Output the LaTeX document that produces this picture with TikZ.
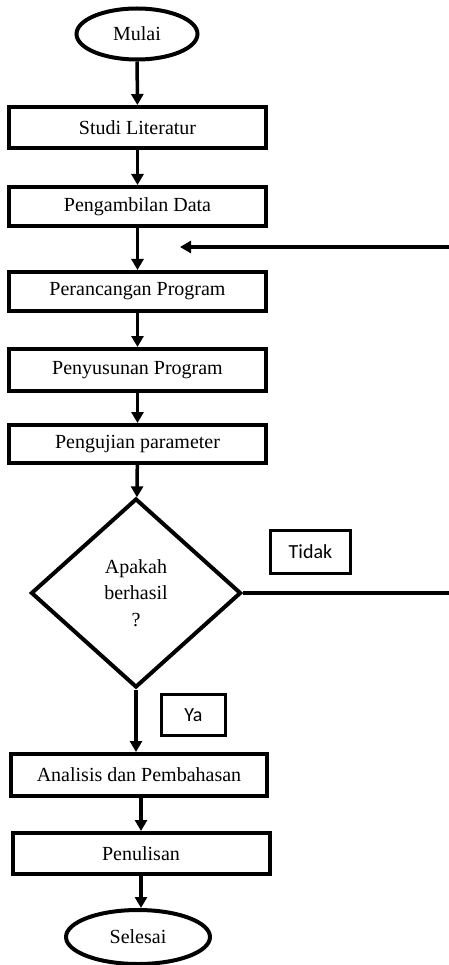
\documentclass[tikz,border=0pt]{standalone}
\usepackage{fontspec}
\setmainfont{Liberation Serif}
\newfontfamily\ketfont{Carlito}
\definecolor{Garis}{RGB}{0,0,0}
\definecolor{Isi}{RGB}{255,255,255}
\usetikzlibrary{
  positioning,
  arrows.meta,
  shapes.geometric
}
\tikzset{
  % Kotak proses
  proses/.style={
    rectangle,
    draw=Garis,
    fill=Isi,
    line width=4pt,
    minimum width=257pt,
    minimum height=41pt,
    inner sep=0pt,
    font=\fontsize{20}{24}\selectfont
  },
  % Mulai / selesai
  terminal/.style={
    ellipse,
    draw=Garis,
    fill=Isi,
    line width=4pt,
    inner sep=0pt,
    font=\fontsize{20}{24}\selectfont
  },
  % Belah ketupat keputusan
  keputusan/.style={
    diamond,
    draw=Garis,
    fill=Isi,
    line width=4pt,
    minimum width=210pt,
    minimum height=189pt,
    inner sep=0pt,
    align=center,
    font=\fontsize{20}{26.5}\selectfont
  },
  % Kotak keterangan Ya / Tidak
  ket/.style={
    rectangle,
    draw=Garis,
    line width=3pt,
    inner sep=0pt,
    font=\ketfont\fontsize{20}{24}\selectfont
  },
  % Panah alur
  alur/.style={
    draw=Garis,
    line width=3.5pt,
    -{Triangle[length=11pt,width=12pt]}
  },
  % Garis tanpa panah
  garis/.style={
    draw=Garis,
    line width=3.5pt
  }
}
\begin{document}
\begin{tikzpicture}[x=1pt,y=-1pt]
  \useasboundingbox (0,0) rectangle (449,965);
  \clip (0,0) rectangle (449,965);

  % Urutan langkah
  \node[terminal, minimum width=121pt, minimum height=51pt] (mulai) at (137, 34) {Mulai};
  \node[proses] (studi)   at (137.5, 127.5) {Studi Literatur};
  \node[proses, minimum height=39pt] (ambil)   at (137.5, 206.5) {Pengambilan Data};
  \node[proses, minimum height=39pt] (rancang) at (137.5, 291.5) {Perancangan Program};
  \node[proses, minimum height=42pt] (susun)   at (137.5, 370)   {Penyusunan Program};
  \node[proses, minimum height=38pt] (uji)     at (137.5, 444)   {Pengujian parameter};
  \node[keputusan] (cek) at (136, 593) {Apakah\\berhasil\\?};
  \node[proses, minimum width=256pt, minimum height=42pt] (analisis) at (139, 775) {Analisis dan Pembahasan};
  \node[proses] (tulis)   at (141, 853.5) {Penulisan};
  \node[terminal, minimum width=144pt, minimum height=54pt] (selesai) at (138, 937) {Selesai};

  % Keterangan
  \node[ket, minimum width=80pt, minimum height=43pt] (tidak) at (310.5, 552) {Tidak};
  \node[ket, minimum width=64pt, minimum height=41pt] (ya)    at (193.5, 715) {Ya};

  % Titik bantu untuk alur balik
  \coordinate (kanan1) at (470, 593);
  \coordinate (kanan2) at (470, 247);
  \coordinate (masuk)  at (180, 247);

  \draw[alur] (mulai) -- (studi);
  \draw[alur] (studi) -- (ambil);
  \draw[alur] (ambil) -- (rancang);
  \draw[alur] (rancang) -- (susun);
  \draw[alur] (susun) -- (uji);
  \draw[alur] (uji) -- (cek);
  \draw[alur] (cek.south) -- (cek.south |- analisis.north);
  \draw[alur] (analisis.south -| tulis.north) -- (tulis.north);
  \draw[alur] (tulis) -- (selesai.north -| tulis.south);
  \draw[alur] (cek.east) -- (kanan1) -- (kanan2) -- (masuk);
\end{tikzpicture}
\end{document}
